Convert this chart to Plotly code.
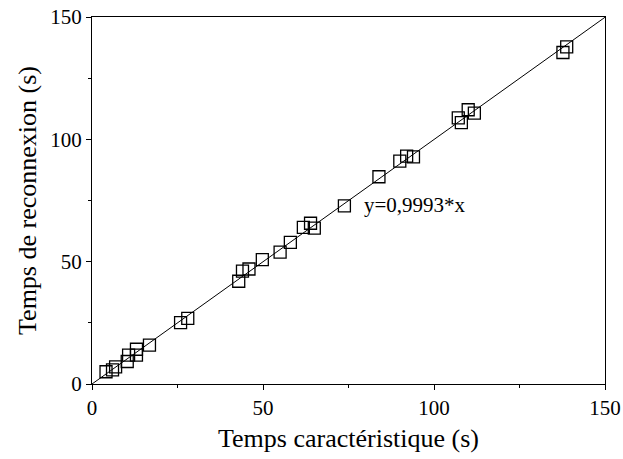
import numpy as np
import plotly.graph_objects as go

# Measured characteristic time vs reconnection time (s)
t_carac = [4.1, 6.0, 6.9, 10.3, 10.7, 13.0, 13.0, 16.8, 25.9, 28.0,
           42.9, 44.0, 45.9, 49.8, 55.0, 58.0, 61.8, 63.9, 65.0, 73.8,
           83.9, 90.0, 92.0, 94.0, 107.1, 108.0, 110.0, 111.8, 137.7, 138.8]
t_reconn = [5.0, 5.8, 7.0, 9.2, 11.8, 11.8, 14.2, 15.9, 25.1, 26.8,
            42.0, 46.1, 47.0, 50.8, 53.9, 57.9, 64.0, 65.7, 63.7, 72.8,
            84.7, 91.1, 93.1, 92.8, 108.8, 106.8, 112.1, 110.7, 135.5, 137.8]

slope = 0.9993
fit_x = [0, 150]
fit_y = [slope * v for v in fit_x]

font = "Liberation Serif, Times New Roman, serif"

fig = go.Figure()
fig.add_trace(go.Scatter(x=fit_x, y=fit_y, mode="lines",
                         line=dict(color="black", width=1), hoverinfo="skip"))
fig.add_trace(go.Scatter(x=t_carac, y=t_reconn, mode="markers",
                         marker=dict(symbol="square-open", size=12,
                                     color="black", line=dict(width=1.3))))

fig.add_annotation(x=79, y=73.2, text="y=0,9993*x", showarrow=False,
                   xanchor="left", yanchor="middle",
                   font=dict(family=font, size=21, color="black"))

axis_common = dict(
    showgrid=False, zeroline=False, showline=True, linecolor="black",
    linewidth=1.2, mirror=True, ticks="outside", ticklen=5, tickwidth=1,
    tickcolor="black", tickfont=dict(family=font, size=21, color="black"),
    range=[0, 150], tickvals=[0, 50, 100, 150], automargin=False,
    minor=dict(tickvals=[25, 75, 125], ticks="outside", ticklen=3,
               tickcolor="black", tickwidth=1),
)

fig.update_xaxes(**axis_common,
                 title=dict(text="Temps caractéristique (s)", standoff=9,
                            font=dict(family=font, size=26, color="black")))
fig.update_yaxes(**axis_common,
                 title=dict(text="Temps de reconnexion (s)", standoff=6,
                            font=dict(family=font, size=26, color="black")))

fig.update_layout(
    width=623, height=459, showlegend=False,
    margin=dict(l=92, r=18, t=17, b=75),
    plot_bgcolor="white", paper_bgcolor="white",
)

fig.write_html("out.html")
